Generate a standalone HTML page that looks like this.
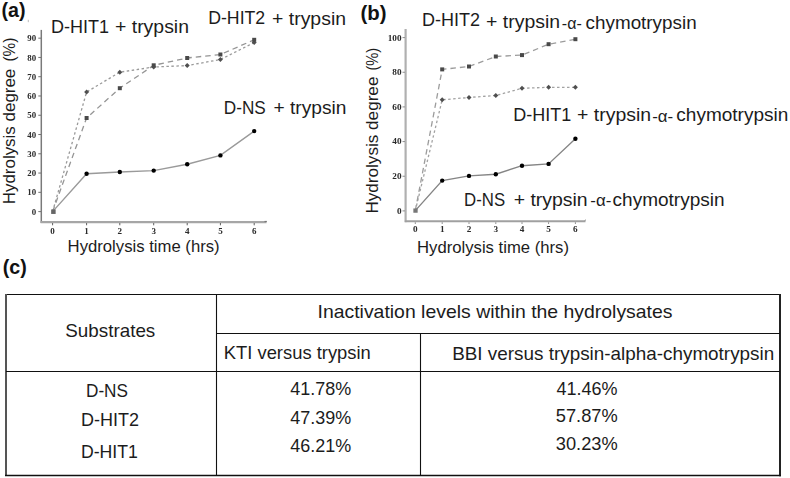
<!DOCTYPE html>
<html><head><meta charset="utf-8"><title>Figure</title>
<style>
html,body{margin:0;padding:0;background:#fff;}
body{width:790px;height:478px;overflow:hidden;font-family:"Liberation Sans",sans-serif;}
svg{display:block;}
</style></head>
<body>
<svg width="790" height="478" viewBox="0 0 790 478">
<defs><filter id="blr" x="-5%" y="-5%" width="110%" height="110%"><feGaussianBlur stdDeviation="0.3"/></filter></defs>
<rect width="790" height="478" fill="#fff"/>
<g filter="url(#blr)">
<line x1="41.3" y1="29.9" x2="41.3" y2="223" stroke="#7a7a7a" stroke-width="1.5"/>
<line x1="40.6" y1="222.1" x2="266.5" y2="222.1" stroke="#a6a6a6" stroke-width="2.2"/>
<line x1="264.5" y1="221.5" x2="266.8" y2="221.5" stroke="#777" stroke-width="1.2"/>
<line x1="38.3" y1="211.6" x2="41" y2="211.6" stroke="#707070" stroke-width="1"/>
<text x="36.1" y="214.7" font-size="8.8" font-family="Liberation Serif" font-weight="bold" fill="#2a2a2a" text-anchor="end">0</text>
<line x1="38.3" y1="192.33" x2="41" y2="192.33" stroke="#707070" stroke-width="1"/>
<text x="36.1" y="195.43" font-size="8.8" font-family="Liberation Serif" font-weight="bold" fill="#2a2a2a" text-anchor="end">10</text>
<line x1="38.3" y1="173.06" x2="41" y2="173.06" stroke="#707070" stroke-width="1"/>
<text x="36.1" y="176.16" font-size="8.8" font-family="Liberation Serif" font-weight="bold" fill="#2a2a2a" text-anchor="end">20</text>
<line x1="38.3" y1="153.79" x2="41" y2="153.79" stroke="#707070" stroke-width="1"/>
<text x="36.1" y="156.89" font-size="8.8" font-family="Liberation Serif" font-weight="bold" fill="#2a2a2a" text-anchor="end">30</text>
<line x1="38.3" y1="134.52" x2="41" y2="134.52" stroke="#707070" stroke-width="1"/>
<text x="36.1" y="137.62" font-size="8.8" font-family="Liberation Serif" font-weight="bold" fill="#2a2a2a" text-anchor="end">40</text>
<line x1="38.3" y1="115.25" x2="41" y2="115.25" stroke="#707070" stroke-width="1"/>
<text x="36.1" y="118.35" font-size="8.8" font-family="Liberation Serif" font-weight="bold" fill="#2a2a2a" text-anchor="end">50</text>
<line x1="38.3" y1="95.98" x2="41" y2="95.98" stroke="#707070" stroke-width="1"/>
<text x="36.1" y="99.08" font-size="8.8" font-family="Liberation Serif" font-weight="bold" fill="#2a2a2a" text-anchor="end">60</text>
<line x1="38.3" y1="76.71" x2="41" y2="76.71" stroke="#707070" stroke-width="1"/>
<text x="36.1" y="79.81" font-size="8.8" font-family="Liberation Serif" font-weight="bold" fill="#2a2a2a" text-anchor="end">70</text>
<line x1="38.3" y1="57.44" x2="41" y2="57.44" stroke="#707070" stroke-width="1"/>
<text x="36.1" y="60.54" font-size="8.8" font-family="Liberation Serif" font-weight="bold" fill="#2a2a2a" text-anchor="end">80</text>
<line x1="38.3" y1="38.17" x2="41" y2="38.17" stroke="#707070" stroke-width="1"/>
<text x="36.1" y="41.27" font-size="8.8" font-family="Liberation Serif" font-weight="bold" fill="#2a2a2a" text-anchor="end">90</text>
<line x1="52.6" y1="223" x2="52.6" y2="225.3" stroke="#606060" stroke-width="1"/>
<text x="52.6" y="233.6" font-size="9" font-family="Liberation Serif" font-weight="bold" fill="#2a2a2a" text-anchor="middle">0</text>
<line x1="86.6" y1="223" x2="86.6" y2="225.3" stroke="#606060" stroke-width="1"/>
<text x="86.6" y="233.6" font-size="9" font-family="Liberation Serif" font-weight="bold" fill="#2a2a2a" text-anchor="middle">1</text>
<line x1="119.8" y1="223" x2="119.8" y2="225.3" stroke="#606060" stroke-width="1"/>
<text x="119.8" y="233.6" font-size="9" font-family="Liberation Serif" font-weight="bold" fill="#2a2a2a" text-anchor="middle">2</text>
<line x1="153.7" y1="223" x2="153.7" y2="225.3" stroke="#606060" stroke-width="1"/>
<text x="153.7" y="233.6" font-size="9" font-family="Liberation Serif" font-weight="bold" fill="#2a2a2a" text-anchor="middle">3</text>
<line x1="187.2" y1="223" x2="187.2" y2="225.3" stroke="#606060" stroke-width="1"/>
<text x="187.2" y="233.6" font-size="9" font-family="Liberation Serif" font-weight="bold" fill="#2a2a2a" text-anchor="middle">4</text>
<line x1="220.4" y1="223" x2="220.4" y2="225.3" stroke="#606060" stroke-width="1"/>
<text x="220.4" y="233.6" font-size="9" font-family="Liberation Serif" font-weight="bold" fill="#2a2a2a" text-anchor="middle">5</text>
<line x1="254.2" y1="223" x2="254.2" y2="225.3" stroke="#606060" stroke-width="1"/>
<text x="254.2" y="233.6" font-size="9" font-family="Liberation Serif" font-weight="bold" fill="#2a2a2a" text-anchor="middle">6</text>
<polyline points="52.6,211.6 86.6,92 119.8,72.2 153.7,67 187.2,65.6 220.4,59.5 254.2,42.6" fill="none" stroke="#9a9a9a" stroke-width="1.3" stroke-dasharray="2.5 2.5"/>
<polyline points="52.6,211.6 86.6,118 119.8,88.2 153.7,65.3 187.2,58 220.4,54.5 254.2,39.8" fill="none" stroke="#959595" stroke-width="1.3" stroke-dasharray="5.5 4"/>
<polyline points="52.6,211.6 86.6,173.7 119.8,172 153.7,170.6 187.2,164.2 220.4,155.4 254.2,131.1" fill="none" stroke="#9a9a9a" stroke-width="1.4"/>
<path d="M86.6 89.5L89.1 92L86.6 94.5L84.1 92Z" fill="#505050"/>
<path d="M119.8 69.7L122.3 72.2L119.8 74.7L117.3 72.2Z" fill="#505050"/>
<path d="M153.7 64.5L156.2 67L153.7 69.5L151.2 67Z" fill="#505050"/>
<path d="M187.2 63.1L189.7 65.6L187.2 68.1L184.7 65.6Z" fill="#505050"/>
<path d="M220.4 57L222.9 59.5L220.4 62L217.9 59.5Z" fill="#505050"/>
<path d="M254.2 40.1L256.7 42.6L254.2 45.1L251.7 42.6Z" fill="#505050"/>
<rect x="84.6" y="116" width="4" height="4" fill="#4a4a4a"/>
<rect x="117.8" y="86.2" width="4" height="4" fill="#4a4a4a"/>
<rect x="151.7" y="63.3" width="4" height="4" fill="#4a4a4a"/>
<rect x="185.2" y="56" width="4" height="4" fill="#4a4a4a"/>
<rect x="218.4" y="52.5" width="4" height="4" fill="#4a4a4a"/>
<rect x="252.2" y="37.8" width="4" height="4" fill="#4a4a4a"/>
<circle cx="86.6" cy="173.7" r="2.2" fill="#000"/>
<circle cx="119.8" cy="172" r="2.2" fill="#000"/>
<circle cx="153.7" cy="170.6" r="2.2" fill="#000"/>
<circle cx="187.2" cy="164.2" r="2.2" fill="#000"/>
<circle cx="220.4" cy="155.4" r="2.2" fill="#000"/>
<circle cx="254.2" cy="131.1" r="2.2" fill="#000"/>
<rect x="51.15" y="209.45" width="4.5" height="4.5" fill="#666"/>
<line x1="28.3" y1="19.8" x2="28.3" y2="22.2" stroke="#aaa" stroke-width="0.8"/>
<line x1="405.6" y1="29" x2="405.6" y2="222.2" stroke="#b0b0b0" stroke-width="2.2"/>
<line x1="404.8" y1="221.3" x2="585.5" y2="221.3" stroke="#a0a0a0" stroke-width="2.0"/>
<line x1="584.5" y1="220.6" x2="586" y2="219.8" stroke="#999" stroke-width="1.0"/>
<line x1="402.5" y1="210.9" x2="405" y2="210.9" stroke="#909090" stroke-width="1"/>
<text x="401.5" y="213.8" font-size="9.2" font-family="Liberation Serif" font-weight="bold" fill="#2a2a2a" text-anchor="end">0</text>
<line x1="402.5" y1="176.24" x2="405" y2="176.24" stroke="#909090" stroke-width="1"/>
<text x="401.5" y="179.14" font-size="9.2" font-family="Liberation Serif" font-weight="bold" fill="#2a2a2a" text-anchor="end">20</text>
<line x1="402.5" y1="141.58" x2="405" y2="141.58" stroke="#909090" stroke-width="1"/>
<text x="401.5" y="144.48" font-size="9.2" font-family="Liberation Serif" font-weight="bold" fill="#2a2a2a" text-anchor="end">40</text>
<line x1="402.5" y1="106.92" x2="405" y2="106.92" stroke="#909090" stroke-width="1"/>
<text x="401.5" y="109.82" font-size="9.2" font-family="Liberation Serif" font-weight="bold" fill="#2a2a2a" text-anchor="end">60</text>
<line x1="402.5" y1="72.26" x2="405" y2="72.26" stroke="#909090" stroke-width="1"/>
<text x="401.5" y="75.16" font-size="9.2" font-family="Liberation Serif" font-weight="bold" fill="#2a2a2a" text-anchor="end">80</text>
<line x1="402.5" y1="37.6" x2="405" y2="37.6" stroke="#909090" stroke-width="1"/>
<text x="401.5" y="40.5" font-size="9.2" font-family="Liberation Serif" font-weight="bold" fill="#2a2a2a" text-anchor="end">100</text>
<line x1="415.3" y1="222.2" x2="415.3" y2="224" stroke="#909090" stroke-width="1"/>
<text x="415.3" y="232.4" font-size="9.2" font-family="Liberation Serif" font-weight="bold" fill="#2a2a2a" text-anchor="middle">0</text>
<line x1="442.2" y1="222.2" x2="442.2" y2="224" stroke="#909090" stroke-width="1"/>
<text x="442.2" y="232.4" font-size="9.2" font-family="Liberation Serif" font-weight="bold" fill="#2a2a2a" text-anchor="middle">1</text>
<line x1="469" y1="222.2" x2="469" y2="224" stroke="#909090" stroke-width="1"/>
<text x="469" y="232.4" font-size="9.2" font-family="Liberation Serif" font-weight="bold" fill="#2a2a2a" text-anchor="middle">2</text>
<line x1="495.8" y1="222.2" x2="495.8" y2="224" stroke="#909090" stroke-width="1"/>
<text x="495.8" y="232.4" font-size="9.2" font-family="Liberation Serif" font-weight="bold" fill="#2a2a2a" text-anchor="middle">3</text>
<line x1="522" y1="222.2" x2="522" y2="224" stroke="#909090" stroke-width="1"/>
<text x="522" y="232.4" font-size="9.2" font-family="Liberation Serif" font-weight="bold" fill="#2a2a2a" text-anchor="middle">4</text>
<line x1="548.6" y1="222.2" x2="548.6" y2="224" stroke="#909090" stroke-width="1"/>
<text x="548.6" y="232.4" font-size="9.2" font-family="Liberation Serif" font-weight="bold" fill="#2a2a2a" text-anchor="middle">5</text>
<line x1="575.4" y1="222.2" x2="575.4" y2="224" stroke="#909090" stroke-width="1"/>
<text x="575.4" y="232.4" font-size="9.2" font-family="Liberation Serif" font-weight="bold" fill="#2a2a2a" text-anchor="middle">6</text>
<polyline points="415.3,210.6 442.2,99.8 469,97.5 495.8,95.5 522,88.3 548.6,87.3 575.4,87.3" fill="none" stroke="#a2a2a2" stroke-width="1.3" stroke-dasharray="2.5 2.5"/>
<polyline points="415.3,210.6 442.2,69.4 469,66.5 495.8,56.5 522,55.1 548.6,44.2 575.4,39.2" fill="none" stroke="#9c9c9c" stroke-width="1.3" stroke-dasharray="5.5 4"/>
<polyline points="415.3,210.6 442.2,180.6 469,175.9 495.8,174.2 522,165.7 548.6,163.9 575.4,138.8" fill="none" stroke="#858585" stroke-width="1.4"/>
<path d="M442.2 97.3L444.7 99.8L442.2 102.3L439.7 99.8Z" fill="#505050"/>
<path d="M469 95L471.5 97.5L469 100L466.5 97.5Z" fill="#505050"/>
<path d="M495.8 93L498.3 95.5L495.8 98L493.3 95.5Z" fill="#505050"/>
<path d="M522 85.8L524.5 88.3L522 90.8L519.5 88.3Z" fill="#505050"/>
<path d="M548.6 84.8L551.1 87.3L548.6 89.8L546.1 87.3Z" fill="#505050"/>
<path d="M575.4 84.8L577.9 87.3L575.4 89.8L572.9 87.3Z" fill="#505050"/>
<rect x="440.2" y="67.4" width="4" height="4" fill="#4a4a4a"/>
<rect x="467" y="64.5" width="4" height="4" fill="#4a4a4a"/>
<rect x="493.8" y="54.5" width="4" height="4" fill="#4a4a4a"/>
<rect x="520" y="53.1" width="4" height="4" fill="#4a4a4a"/>
<rect x="546.6" y="42.2" width="4" height="4" fill="#4a4a4a"/>
<rect x="573.4" y="37.2" width="4" height="4" fill="#4a4a4a"/>
<circle cx="442.2" cy="180.6" r="2.2" fill="#000"/>
<circle cx="469" cy="175.9" r="2.2" fill="#000"/>
<circle cx="495.8" cy="174.2" r="2.2" fill="#000"/>
<circle cx="522" cy="165.7" r="2.2" fill="#000"/>
<circle cx="548.6" cy="163.9" r="2.2" fill="#000"/>
<circle cx="575.4" cy="138.8" r="2.2" fill="#000"/>
<rect x="413.35" y="208.45" width="4.3" height="4.3" fill="#777"/>
</g>
<text x="50.9" y="32.7" font-size="18.8" font-family="Liberation Sans" font-weight="normal" fill="#1c1c1c" text-anchor="start" textLength="58.01" lengthAdjust="spacingAndGlyphs">D-HIT1</text>
<text x="114.99" y="32.7" font-size="18.8" font-family="Liberation Sans" font-weight="normal" fill="#1c1c1c" text-anchor="start" textLength="74.03" lengthAdjust="spacingAndGlyphs">+ trypsin</text>
<text x="208.21" y="23.7" font-size="18.8" font-family="Liberation Sans" font-weight="normal" fill="#1c1c1c" text-anchor="start" textLength="57" lengthAdjust="spacingAndGlyphs">D-HIT2</text>
<text x="272" y="24.6" font-size="18.8" font-family="Liberation Sans" font-weight="normal" fill="#1c1c1c" text-anchor="start" textLength="74.04" lengthAdjust="spacingAndGlyphs">+ trypsin</text>
<text x="223.79" y="113.8" font-size="18.8" font-family="Liberation Sans" font-weight="normal" fill="#1c1c1c" text-anchor="start" textLength="42.01" lengthAdjust="spacingAndGlyphs">D-NS</text>
<text x="273.51" y="113.8" font-size="18.8" font-family="Liberation Sans" font-weight="normal" fill="#1c1c1c" text-anchor="start" textLength="73" lengthAdjust="spacingAndGlyphs">+ trypsin</text>
<text x="422.11" y="25.9" font-size="18.8" font-family="Liberation Sans" font-weight="normal" fill="#1c1c1c" text-anchor="start" textLength="58" lengthAdjust="spacingAndGlyphs">D-HIT2</text>
<text x="486.1" y="27.8" font-size="18.8" font-family="Liberation Sans" font-weight="normal" fill="#1c1c1c" text-anchor="start" textLength="74.01" lengthAdjust="spacingAndGlyphs">+ trypsin</text>
<text x="561.82" y="28.6" font-size="16.5" font-family="Liberation Sans" font-weight="normal" fill="#1c1c1c" text-anchor="start" textLength="19.98" lengthAdjust="spacingAndGlyphs">-α-</text>
<text x="585.61" y="28.8" font-size="18.8" font-family="Liberation Sans" font-weight="normal" fill="#1c1c1c" text-anchor="start" textLength="111.01" lengthAdjust="spacingAndGlyphs">chymotrypsin</text>
<text x="513.29" y="121.2" font-size="18.8" font-family="Liberation Sans" font-weight="normal" fill="#1c1c1c" text-anchor="start" textLength="58.01" lengthAdjust="spacingAndGlyphs">D-HIT1</text>
<text x="577.1" y="121.2" font-size="18.8" font-family="Liberation Sans" font-weight="normal" fill="#1c1c1c" text-anchor="start" textLength="74" lengthAdjust="spacingAndGlyphs">+ trypsin</text>
<text x="652.18" y="122.4" font-size="16.5" font-family="Liberation Sans" font-weight="normal" fill="#1c1c1c" text-anchor="start" textLength="21.02" lengthAdjust="spacingAndGlyphs">-α-</text>
<text x="676.3" y="121.3" font-size="18.8" font-family="Liberation Sans" font-weight="normal" fill="#1c1c1c" text-anchor="start" textLength="112" lengthAdjust="spacingAndGlyphs">chymotrypsin</text>
<text x="464.11" y="206.1" font-size="18.8" font-family="Liberation Sans" font-weight="normal" fill="#1c1c1c" text-anchor="start" textLength="41.02" lengthAdjust="spacingAndGlyphs">D-NS</text>
<text x="513.7" y="206" font-size="18.8" font-family="Liberation Sans" font-weight="normal" fill="#1c1c1c" text-anchor="start" textLength="74.01" lengthAdjust="spacingAndGlyphs">+ trypsin</text>
<text x="590.32" y="205.9" font-size="16.5" font-family="Liberation Sans" font-weight="normal" fill="#1c1c1c" text-anchor="start" textLength="21" lengthAdjust="spacingAndGlyphs">-α-</text>
<text x="612.59" y="205.8" font-size="18.8" font-family="Liberation Sans" font-weight="normal" fill="#1c1c1c" text-anchor="start" textLength="111.99" lengthAdjust="spacingAndGlyphs">chymotrypsin</text>
<text x="1.52" y="16.7" font-size="20.4" font-family="Liberation Sans" font-weight="bold" fill="#111" text-anchor="start" textLength="24.01" lengthAdjust="spacingAndGlyphs">(a)</text>
<text x="360.59" y="19.7" font-size="20.4" font-family="Liberation Sans" font-weight="bold" fill="#111" text-anchor="start" textLength="26.02" lengthAdjust="spacingAndGlyphs">(b)</text>
<text x="2.7" y="273.8" font-size="20.4" font-family="Liberation Sans" font-weight="bold" fill="#111" text-anchor="start" textLength="24.01" lengthAdjust="spacingAndGlyphs">(c)</text>
<text x="67.6" y="251.8" font-size="17.3" font-family="Liberation Sans" font-weight="normal" fill="#1c1c1c" text-anchor="start" textLength="152.03" lengthAdjust="spacingAndGlyphs">Hydrolysis time (hrs)</text>
<text x="417" y="252.5" font-size="17.3" font-family="Liberation Sans" font-weight="normal" fill="#1c1c1c" text-anchor="start" textLength="152" lengthAdjust="spacingAndGlyphs">Hydrolysis time (hrs)</text>
<text transform="translate(15.3,204.3) rotate(-90)" font-size="17.3" font-family="Liberation Sans" fill="#1c1c1c" textLength="135.59" lengthAdjust="spacingAndGlyphs">Hydrolysis degree</text>
<text transform="translate(15.3,61.49) rotate(-90)" font-size="17.3" font-family="Liberation Sans" fill="#1c1c1c" textLength="23.83" lengthAdjust="spacingAndGlyphs">(%)</text>
<text transform="translate(378.2,213.6) rotate(-90)" font-size="17.3" font-family="Liberation Sans" fill="#1c1c1c" textLength="137" lengthAdjust="spacingAndGlyphs">Hydrolysis degree</text>
<text transform="translate(378.2,70.61) rotate(-90)" font-size="17.3" font-family="Liberation Sans" fill="#1c1c1c" textLength="22.78" lengthAdjust="spacingAndGlyphs">(%)</text>
<line x1="6" y1="294.5" x2="780.5" y2="294.5" stroke="#111" stroke-width="1.2"/>
<line x1="6" y1="293.9" x2="6" y2="476" stroke="#555" stroke-width="2"/>
<line x1="780" y1="293.9" x2="780" y2="476.3" stroke="#222" stroke-width="2"/>
<line x1="5" y1="475.5" x2="781" y2="475.5" stroke="#111" stroke-width="1.4"/>
<line x1="216.5" y1="294" x2="216.5" y2="475" stroke="#111" stroke-width="1.1"/>
<line x1="216.5" y1="333.5" x2="780" y2="333.5" stroke="#111" stroke-width="1.1"/>
<line x1="6" y1="371.5" x2="780" y2="371.5" stroke="#111" stroke-width="1.1"/>
<line x1="420.5" y1="333.5" x2="420.5" y2="475" stroke="#111" stroke-width="1.1"/>
<text x="65.3" y="336.6" font-size="18.2" font-family="Liberation Sans" font-weight="normal" fill="#1c1c1c" text-anchor="start" textLength="90" lengthAdjust="spacingAndGlyphs">Substrates</text>
<text x="317.5" y="318.2" font-size="18.2" font-family="Liberation Sans" font-weight="normal" fill="#1c1c1c" text-anchor="start" textLength="355.03" lengthAdjust="spacingAndGlyphs">Inactivation levels within the hydrolysates</text>
<text x="223.8" y="358.9" font-size="18.2" font-family="Liberation Sans" font-weight="normal" fill="#1c1c1c" text-anchor="start" textLength="146.99" lengthAdjust="spacingAndGlyphs">KTI versus trypsin</text>
<text x="452.2" y="359.7" font-size="18.2" font-family="Liberation Sans" font-weight="normal" fill="#1c1c1c" text-anchor="start" textLength="322.01" lengthAdjust="spacingAndGlyphs">BBI versus trypsin-alpha-chymotrypsin</text>
<text x="86" y="396.8" font-size="18.2" font-family="Liberation Sans" font-weight="normal" fill="#1c1c1c" text-anchor="start" textLength="41.98" lengthAdjust="spacingAndGlyphs">D-NS</text>
<text x="81" y="425.6" font-size="18.2" font-family="Liberation Sans" font-weight="normal" fill="#1c1c1c" text-anchor="start" textLength="58" lengthAdjust="spacingAndGlyphs">D-HIT2</text>
<text x="80.9" y="457.5" font-size="18.2" font-family="Liberation Sans" font-weight="normal" fill="#1c1c1c" text-anchor="start" textLength="57" lengthAdjust="spacingAndGlyphs">D-HIT1</text>
<text x="290.3" y="395.2" font-size="18.2" font-family="Liberation Sans" font-weight="normal" fill="#1c1c1c" text-anchor="start" textLength="60.99" lengthAdjust="spacingAndGlyphs">41.78%</text>
<text x="290.2" y="423.9" font-size="18.2" font-family="Liberation Sans" font-weight="normal" fill="#1c1c1c" text-anchor="start" textLength="60.99" lengthAdjust="spacingAndGlyphs">47.39%</text>
<text x="290.2" y="451.5" font-size="18.2" font-family="Liberation Sans" font-weight="normal" fill="#1c1c1c" text-anchor="start" textLength="60.99" lengthAdjust="spacingAndGlyphs">46.21%</text>
<text x="556.6" y="395.2" font-size="18.2" font-family="Liberation Sans" font-weight="normal" fill="#1c1c1c" text-anchor="start" textLength="61.02" lengthAdjust="spacingAndGlyphs">41.46%</text>
<text x="555.79" y="421.7" font-size="18.2" font-family="Liberation Sans" font-weight="normal" fill="#1c1c1c" text-anchor="start" textLength="62.01" lengthAdjust="spacingAndGlyphs">57.87%</text>
<text x="555.79" y="449.7" font-size="18.2" font-family="Liberation Sans" font-weight="normal" fill="#1c1c1c" text-anchor="start" textLength="62.01" lengthAdjust="spacingAndGlyphs">30.23%</text>
</svg>
</body></html>
